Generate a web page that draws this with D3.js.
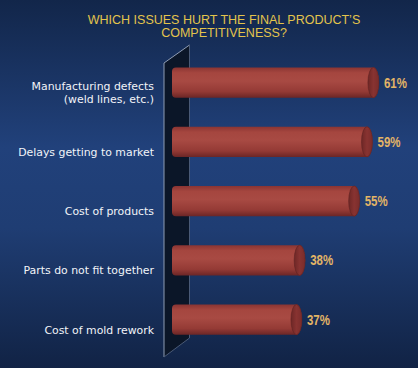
<!DOCTYPE html>
<html>
<head>
<meta charset="utf-8">
<script src="https://cdn.jsdelivr.net/npm/d3@7"></script>
<style>
  html, body { margin: 0; padding: 0; background: #152a4e; }
  svg { display: block; }
</style>
</head>
<body>
<script>
// chart data
const categories = [
    ["Manufacturing defects", "(weld lines, etc.)"],
    ["Delays getting to market"],
    ["Cost of products"],
    ["Parts do not fit together"],
    ["Cost of mold rework"]
];
const values = [61, 59, 55, 38, 37];
const valueLabels = ["61%", "59%", "55%", "38%", "37%"];
const titleLines = ["WHICH ISSUES HURT THE FINAL PRODUCT\u2019S", "COMPETITIVENESS?"];

const W = 418, H = 368;

let svg = d3.select("body")
    .append("svg")
    .attr("width", W)
    .attr("height", H);

let defs = svg.append("defs");

// background gradient
let bg = defs.append("linearGradient")
    .attr("id", "bg").attr("x1", 0).attr("y1", 0).attr("x2", 0).attr("y2", 1);
bg.append("stop").attr("offset", "0%").attr("stop-color", "#12264a");
bg.append("stop").attr("offset", "40%").attr("stop-color", "#21417b");
bg.append("stop").attr("offset", "62%").attr("stop-color", "#1f3d73");
bg.append("stop").attr("offset", "100%").attr("stop-color", "#112345");

// cylinder body gradient
let body = defs.append("linearGradient")
    .attr("id", "cyl").attr("x1", 0).attr("y1", 0).attr("x2", 0).attr("y2", 1);
body.append("stop").attr("offset", "0%").attr("stop-color", "#8a3432");
body.append("stop").attr("offset", "18%").attr("stop-color", "#a5463f");
body.append("stop").attr("offset", "45%").attr("stop-color", "#a84a43");
body.append("stop").attr("offset", "80%").attr("stop-color", "#943a35");
body.append("stop").attr("offset", "100%").attr("stop-color", "#6c2626");

// cap gradient
let cap = defs.append("linearGradient")
    .attr("id", "cap").attr("x1", 0).attr("y1", 0).attr("x2", 1).attr("y2", 0);
cap.append("stop").attr("offset", "0%").attr("stop-color", "#6e2726");
cap.append("stop").attr("offset", "50%").attr("stop-color", "#883331");
cap.append("stop").attr("offset", "100%").attr("stop-color", "#7a2c2b");

svg.append("rect")
    .attr("width", W).attr("height", H)
    .attr("fill", "url(#bg)");

// scales
const x = d3.scaleLinear().domain([0, 100]).range([183.3, 504]);
const y = d3.scaleBand()
    .domain(d3.range(values.length))
    .range([52.9, 349.2])
    .paddingInner(0.49)
    .paddingOuter(0.245);

// title
svg.append("g").selectAll("text")
    .data(titleLines)
    .enter()
    .append("text")
    .attr("x", 224)
    .attr("y", (d, i) => 24 + i * 13)
    .attr("text-anchor", "middle")
    .attr("font-family", "Liberation Sans, Arial, sans-serif")
    .attr("font-size", 12.5)
    .attr("fill", "#e3c44c")
    .text(d => d);

// the slanted back wall
const wall = [[164, 63], [189.5, 45], [189.5, 338], [164, 357]];
svg.append("path")
    .attr("d", "M" + wall.join("L") + "Z")
    .attr("fill", "#0b1628");
svg.append("path")
    .attr("d", "M" + [wall[3], wall[0], wall[1]].join("L"))
    .attr("fill", "none")
    .attr("stroke", "#8e9cb3")
    .attr("stroke-width", 1);
svg.append("path")
    .attr("d", "M" + [wall[1], wall[2], wall[3]].join("L"))
    .attr("fill", "none")
    .attr("stroke", "#4a5a76")
    .attr("stroke-width", 1);

// bars (cylinders)
const BAR_START = 172;
const CAP_RX = 5.5;

let bars = svg.append("g").selectAll("g")
    .data(values)
    .enter()
    .append("g");

bars.append("path")
    .attr("d", (d, i) => {
        let y0 = y(i), h = y.bandwidth(), x1 = x(d) - CAP_RX, r = 4;
        return "M" + (BAR_START + r) + "," + y0 +
            "L" + x1 + "," + y0 +
            "A" + CAP_RX + "," + (h / 2) + " 0 0 1 " + x1 + "," + (y0 + h) +
            "L" + (BAR_START + r) + "," + (y0 + h) +
            "Q" + BAR_START + "," + (y0 + h) + " " + BAR_START + "," + (y0 + h - r) +
            "L" + BAR_START + "," + (y0 + r) +
            "Q" + BAR_START + "," + y0 + " " + (BAR_START + r) + "," + y0 + "Z";
    })
    .attr("fill", "url(#cyl)");

bars.append("ellipse")
    .attr("cx", d => x(d) - CAP_RX)
    .attr("cy", (d, i) => y(i) + y.bandwidth() / 2)
    .attr("rx", CAP_RX)
    .attr("ry", y.bandwidth() / 2)
    .attr("fill", "url(#cap)")
    .attr("stroke", "#5e2121")
    .attr("stroke-width", 0.6);

// value labels (squeezed horizontally, the original uses a narrow face)
svg.append("g").selectAll("text")
    .data(values)
    .enter()
    .append("text")
    .attr("transform", (d, i) => "translate(" + (x(d) + 5) + "," + (y(i) + y.bandwidth() / 2 + 5) + ") scale(0.82,1)")
    .attr("font-family", "Liberation Sans, Arial, sans-serif")
    .attr("font-size", 14)
    .attr("font-weight", 600)
    .attr("fill", "#e2b466")
    .text((d, i) => valueLabels[i]);

// category labels
let cats = svg.append("g").selectAll("text")
    .data(categories)
    .enter()
    .append("text")
    .attr("text-anchor", "end")
    .attr("font-family", "DejaVu Sans, Verdana, sans-serif")
    .attr("font-size", 10.9)
    .attr("fill", "#f2f4f8");

cats.selectAll("tspan")
    .data((d, i) => d.map((line, k) => ({ line: line, k: k, n: d.length, i: i })))
    .enter()
    .append("tspan")
    .attr("x", 154)
    .attr("y", t => y(t.i) + y.bandwidth() / 2 + (t.n > 1 ? 7.5 + t.k * 13 : 14))
    .text(t => t.line);
</script>
</body>
</html>
